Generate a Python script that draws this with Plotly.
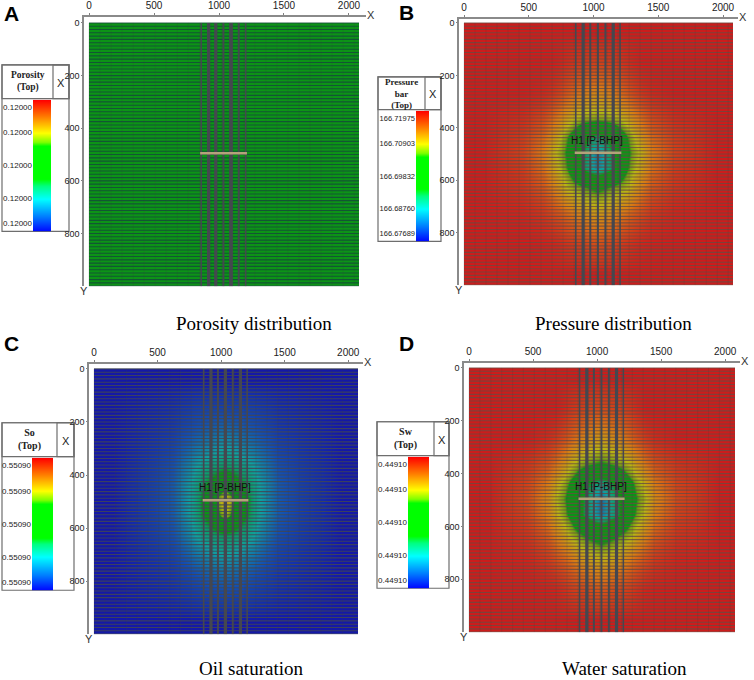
import numpy as np
import plotly.graph_objects as go

W, H = 754, 680
NARROW = "Liberation Sans, sans-serif"
SERIF = "Liberation Serif, serif"
SANS = "Liberation Sans, sans-serif"

# colour levels, shared by the four maps and the legend bars
LEVELS = [0, 0.12, 0.25, 0.35, 0.4, 0.65, 0.68, 0.75, 0.87, 1]
LEGEND_COLORS = ["#0000ff", "#0080ff", "#00ffff", "#00ff80", "#00ff00", "#00ff00", "#80ff00", "#ffff00", "#ff8000", "#ff0000"]
FIELD_COLORS = ["#1418a8", "#1450b0", "#10a0a0", "#0c9c60", "#0c9416", "#0c9416", "#70a014", "#b8b414", "#d87a14", "#cc1c1c"]
LEGEND_TICKS = [0.06, 0.25, 0.5, 0.75, 0.94]

POROSITY_LABELS = ["0.12000", "0.12000", "0.12000", "0.12000", "0.12000"]
PRESSURE_LABELS = ["166.67689", "166.68760", "166.69832", "166.70903", "166.71975"]
SO_LABELS = ["0.55090", "0.55090", "0.55090", "0.55090", "0.55090"]
SW_LABELS = ["0.44910", "0.44910", "0.44910", "0.44910", "0.44910"]

X_TICKS = [0, 500, 1000, 1500, 2000]
Y_TICKS = [0, 200, 400, 600, 800]

# cell edges of the coarse colour grid
X_EDGES = [0, 300, 620, 750, 850, 965, 1095, 1210, 1310, 1445, 1800, 2077]
Y_EDGES = [0, 85, 220, 320, 405, 467, 522, 585, 670, 770, 910, 1000]

POROSITY_Z = [[0.5] * 11 for _ in range(11)]

PRESSURE_Z = [
    [1, 1, 1, 1, 1, 1, 1, 1, 1, 1, 1],
    [1, 1, 1, 0.98, 0.96, 0.95, 0.96, 0.98, 1, 1, 1],
    [1, 1, 0.97, 0.92, 0.87, 0.84, 0.87, 0.92, 0.97, 1, 1],
    [1, 0.98, 0.9, 0.8, 0.72, 0.7, 0.72, 0.8, 0.9, 0.98, 1],
    [1, 0.96, 0.83, 0.66, 0.46, 0.32, 0.46, 0.66, 0.83, 0.96, 1],
    [1, 0.95, 0.78, 0.63, 0.4, 0.18, 0.4, 0.63, 0.78, 0.95, 1],
    [1, 0.96, 0.81, 0.65, 0.38, 0.2, 0.38, 0.65, 0.81, 0.96, 1],
    [1, 0.97, 0.87, 0.74, 0.68, 0.62, 0.68, 0.74, 0.87, 0.97, 1],
    [1, 0.99, 0.94, 0.89, 0.84, 0.8, 0.84, 0.89, 0.94, 0.99, 1],
    [1, 1, 0.99, 0.97, 0.95, 0.93, 0.95, 0.97, 0.99, 1, 1],
    [1, 1, 1, 1, 1, 1, 1, 1, 1, 1, 1],
]

SW_Z = [
    [1, 1, 1, 1, 1, 1, 1, 1, 1, 1, 1],
    [1, 1, 1, 0.97, 0.95, 0.94, 0.95, 0.97, 1, 1, 1],
    [1, 1, 0.96, 0.9, 0.84, 0.8, 0.84, 0.9, 0.96, 1, 1],
    [1, 0.97, 0.88, 0.76, 0.68, 0.64, 0.68, 0.76, 0.88, 0.97, 1],
    [1, 0.95, 0.79, 0.62, 0.42, 0.28, 0.42, 0.62, 0.79, 0.95, 1],
    [1, 0.94, 0.74, 0.58, 0.36, 0.16, 0.36, 0.58, 0.74, 0.94, 1],
    [1, 0.95, 0.77, 0.6, 0.34, 0.18, 0.34, 0.6, 0.77, 0.95, 1],
    [1, 0.97, 0.85, 0.72, 0.63, 0.56, 0.63, 0.72, 0.85, 0.97, 1],
    [1, 0.99, 0.93, 0.87, 0.8, 0.76, 0.8, 0.87, 0.93, 0.99, 1],
    [1, 1, 0.99, 0.96, 0.94, 0.92, 0.94, 0.96, 0.99, 1, 1],
    [1, 1, 1, 1, 1, 1, 1, 1, 1, 1, 1],
]

SO_Z = [
    [0, 0, 0, 0, 0, 0, 0, 0, 0, 0, 0],
    [0, 0.03, 0.06, 0.08, 0.09, 0.09, 0.09, 0.08, 0.06, 0.03, 0],
    [0, 0.05, 0.11, 0.15, 0.18, 0.22, 0.18, 0.15, 0.11, 0.05, 0],
    [0, 0.07, 0.16, 0.24, 0.3, 0.34, 0.3, 0.24, 0.16, 0.07, 0],
    [0, 0.08, 0.19, 0.29, 0.42, 0.58, 0.42, 0.29, 0.19, 0.08, 0],
    [0, 0.08, 0.19, 0.3, 0.5, 0.86, 0.5, 0.3, 0.19, 0.08, 0],
    [0, 0.08, 0.19, 0.3, 0.46, 0.75, 0.46, 0.3, 0.19, 0.08, 0],
    [0, 0.07, 0.16, 0.25, 0.32, 0.36, 0.32, 0.25, 0.16, 0.07, 0],
    [0, 0.05, 0.11, 0.16, 0.2, 0.23, 0.2, 0.16, 0.11, 0.05, 0],
    [0, 0.03, 0.06, 0.08, 0.1, 0.11, 0.1, 0.08, 0.06, 0.03, 0],
    [0, 0, 0, 0, 0, 0, 0, 0, 0, 0, 0],
]

WELL_X = [863, 920, 975, 1034, 1092, 1152, 1205]
WELL_WIDTHS_A = [1.6, 3.2, 3.2, 2, 3.8, 2, 1.6]
WELL_WIDTHS_B = [1.6, 3.2, 2, 2, 2, 3.2, 1.6]
WELL_WIDTHS_C = [1.6, 3.2, 2, 3.2, 2, 3.2, 1.6]
WELL_WIDTHS_D = [1.6, 3.2, 2, 2, 2, 3.2, 1.6]
BAR_X = [855, 1215]
BAR_Y = [495, 495]

ROW_LINES = np.arange(0, 1001, 12.5)
COL_LINES = np.arange(0, 2078, 85)

PANELS = [
    dict(letter="A", letter_xy=(3, 12), caption="Porosity distribution", caption_xy=(254, 322), z=POROSITY_Z,
         x0=89, x_end=359, y0=21, y_end=285, ax_top=15, ax_left=84, ax_right=366, widths=WELL_WIDTHS_A, label=False,
         legend=(2, 69, 63, 230, 97, 53, 33, 51), header="Porosity<br>(Top)", header_size=9.5, ticks=POROSITY_LABELS,
         line="rgba(20,70,60,0.8)", tick_size=8),
    dict(letter="B", letter_xy=(398, 11), caption="Pressure distribution", caption_xy=(613, 322), z=PRESSURE_Z,
         x0=464, x_end=733, y0=21, y_end=284, ax_top=17, ax_left=459, ax_right=738, widths=WELL_WIDTHS_B, label=True,
         legend=(378, 441, 75, 240, 108, 425, 416, 429), header="Pressure<br>bar<br>(Top)", header_size=9, ticks=PRESSURE_LABELS,
         line="rgba(105,75,65,0.8)", tick_size=7.5),
    dict(letter="C", letter_xy=(3, 343), caption="Oil saturation", caption_xy=(251, 668), z=SO_Z,
         x0=94, x_end=358, y0=368, y_end=634, ax_top=363, ax_left=89, ax_right=363, widths=WELL_WIDTHS_C, label=True,
         legend=(2, 74, 422, 590, 456, 57, 32, 53), header="So<br>(Top)", header_size=10, ticks=SO_LABELS,
         line="rgba(65,70,85,0.85)", tick_size=8),
    dict(letter="D", letter_xy=(398, 343), caption="Water saturation", caption_xy=(624, 668), z=SW_Z,
         x0=469, x_end=735, y0=367, y_end=632, ax_top=362, ax_left=464, ax_right=740, widths=WELL_WIDTHS_D, label=True,
         legend=(377, 449, 421, 588, 455, 434, 408, 429), header="Sw<br>(Top)", header_size=10, ticks=SW_LABELS,
         line="rgba(105,75,65,0.8)", tick_size=8),
]

field_scale = [[lv, c] for lv, c in zip(LEVELS, FIELD_COLORS)]
legend_scale = [[lv, c] for lv, c in zip(LEVELS, LEGEND_COLORS)]

fig = go.Figure()
layout = {}
annotations = []
shapes = []


def xdom(a, b):
    return [a / W, b / W]


def ydom(top, bottom):
    return [1 - bottom / H, 1 - top / H]


def text_at(px, py, text, font, anchor="center", size=11, color="#000000"):
    annotations.append(dict(xref="paper", yref="paper", x=px / W, y=1 - py / H, text=text, showarrow=False,
                            xanchor=anchor, yanchor="middle", borderpad=0,
                            font=dict(family=font, size=size, color=color)))


def box(x1, x2, y1, y2, fill="rgba(0,0,0,0)", color="#6e6e6e", width=1.2):
    shapes.append(dict(type="rect", xref="paper", yref="paper", x0=x1 / W, x1=x2 / W, y0=1 - y1 / H, y1=1 - y2 / H,
                       line=dict(color=color, width=width), fillcolor=fill, layer="below"))


for i, p in enumerate(PANELS):
    n = 2 * i + 1
    xa, ya = f"x{n}", f"y{n}"
    sx = (p["x_end"] - p["x0"]) / 2077
    sy = (p["y_end"] - p["y0"]) / 1000

    fig.add_trace(go.Heatmap(x=X_EDGES, y=Y_EDGES, z=p["z"], zmin=0, zmax=1, zsmooth="best", colorscale=field_scale,
                             showscale=False, hoverinfo="skip", xaxis=xa, yaxis=ya))

    row_x, row_y = [], []
    for r in ROW_LINES:
        row_x += [0, 2077, None]
        row_y += [r, r, None]
    fig.add_trace(go.Scatter(x=row_x, y=row_y, mode="lines", line=dict(color=p["line"], width=1.1), showlegend=False,
                             hoverinfo="skip", xaxis=xa, yaxis=ya))
    col_x, col_y = [], []
    for c in COL_LINES:
        col_x += [c, c, None]
        col_y += [0, 1000, None]
    fig.add_trace(go.Scatter(x=col_x, y=col_y, mode="lines", line=dict(color="rgba(60,70,60,0.16)", width=1),
                             showlegend=False, hoverinfo="skip", xaxis=xa, yaxis=ya))
    for wx, ww in zip(WELL_X, p["widths"]):
        fig.add_trace(go.Scatter(x=[wx, wx], y=[0, 1000], mode="lines", line=dict(color="#45474f", width=ww),
                                 showlegend=False, hoverinfo="skip", xaxis=xa, yaxis=ya))
    fig.add_trace(go.Scatter(x=BAR_X, y=BAR_Y, mode="lines", line=dict(color="#b5a27a", width=2.5), showlegend=False,
                             hoverinfo="skip", xaxis=xa, yaxis=ya))

    layout[f"xaxis{n}"] = dict(
        domain=xdom(p["ax_left"], p["ax_right"]), anchor=f"y{n}", side="top",
        range=[(p["ax_left"] - p["x0"]) / sx, (p["ax_right"] - p["x0"]) / sx],
        tickvals=X_TICKS, ticks="outside", ticklen=2, tickcolor="#808080",
        tickfont=dict(family=NARROW, size=10, color="#222222"), showgrid=False, zeroline=False,
        showline=True, linecolor="#8a8a8a", linewidth=1.5)
    layout[f"yaxis{n}"] = dict(
        domain=ydom(p["ax_top"], p["y_end"]), anchor=f"x{n}",
        range=[1000, (p["ax_top"] - p["y0"]) / sy],
        tickvals=Y_TICKS, ticks="outside", ticklen=1, tickcolor="#808080",
        tickfont=dict(family=NARROW, size=9, color="#222222"), showgrid=False, zeroline=False,
        showline=True, linecolor="#8a8a8a", linewidth=1.5)

    if p["label"]:
        annotations.append(dict(xref=xa, yref=ya, x=1030, y=448, text="H1 [P-BHP]", showarrow=False,
                                font=dict(family=NARROW, size=10, color="#101010")))

    text_at(p["ax_right"] + 5, p["ax_top"] - 2, "X", NARROW, size=11, color="#333333")
    text_at(p["ax_left"], p["y_end"] + 5, "Y", NARROW, size=11, color="#333333")
    text_at(p["letter_xy"][0], p["letter_xy"][1], f"<b>{p['letter']}</b>", SANS, anchor="left", size=21)
    text_at(p["caption_xy"][0], p["caption_xy"][1], p["caption"], SERIF, size=19)

    # legend box with header, drawn on its own small axes
    lx1, lx2, ly1, ly2, head, div, bx1, bx2 = p["legend"]
    m = n + 1
    box(lx1, lx2, ly1, ly2, fill="#ffffff")
    box(lx1, lx2, ly1, head)
    box(div, lx2, ly1, head)
    text_at((lx1 + div) / 2, (ly1 + head) / 2, f"<b>{p['header']}</b>", SERIF, size=p["header_size"], color="#222222")
    text_at((div + lx2) / 2, (ly1 + head) / 2 + 1, "X", NARROW, size=11, color="#222222")
    fig.add_trace(go.Heatmap(x=[0, 1], y=LEVELS, z=[[v, v] for v in LEVELS], zmin=0, zmax=1, zsmooth="best",
                             colorscale=legend_scale, showscale=False, hoverinfo="skip", xaxis=f"x{m}", yaxis=f"y{m}"))
    layout[f"xaxis{m}"] = dict(domain=xdom(bx1, bx2), anchor=f"y{m}", range=[0, 1], visible=False)
    layout[f"yaxis{m}"] = dict(domain=ydom(head + 1, ly2), anchor=f"x{m}", range=[0, 1], tickvals=LEGEND_TICKS,
                               ticktext=p["ticks"], ticks="", showgrid=False, zeroline=False, showline=False,
                               tickfont=dict(family=NARROW, size=p["tick_size"], color="#222222"))

fig.update_layout(
    width=W, height=H, autosize=False, margin=dict(l=0, r=0, t=0, b=0),
    paper_bgcolor="#ffffff", plot_bgcolor="rgba(0,0,0,0)", showlegend=False,
    annotations=annotations, shapes=shapes, **layout,
)
fig.write_html("out.html", config={"displayModeBar": False}, post_script="document.body.style.margin='0';")
